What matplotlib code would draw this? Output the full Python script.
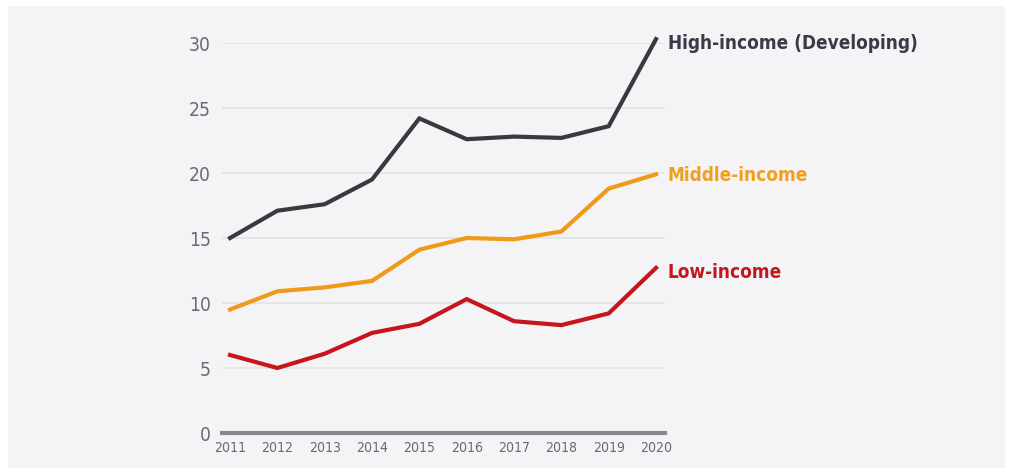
import matplotlib
matplotlib.use("Agg")
import matplotlib.pyplot as plt
from matplotlib.patches import Rectangle
from matplotlib import font_manager as fm

years = [2011, 2012, 2013, 2014, 2015, 2016, 2017, 2018, 2019, 2020]
high_income = [15.0, 17.1, 17.6, 19.5, 24.2, 22.6, 22.8, 22.7, 23.6, 30.3]
middle_income = [9.5, 10.9, 11.2, 11.7, 14.1, 15.0, 14.9, 15.5, 18.8, 19.9]
low_income = [6.0, 5.0, 6.1, 7.7, 8.4, 10.3, 8.6, 8.3, 9.2, 12.7]
series_names = ["High-income (Developing)", "Middle-income", "Low-income"]
series_colors = ["#3a3a3e", "#f09a1a", "#c4161c"]
label_colors = ["#3a3a48", "#f0a020", "#c4161c"]
yticks = [0, 5, 10, 15, 20, 25, 30]

# choose the most condensed installed font
rank = {"ultra-condensed": 0, "extra-condensed": 1, "condensed": 2, "semi-condensed": 3}
best = None
for f in fm.fontManager.ttflist:
    r = rank.get(f.stretch, 9)
    if r == 9 and ("Narrow" in f.name or "Condensed" in f.name):
        r = 2
    if r < 9 and (best is None or r < best[0]):
        best = (r, f)
if best is not None:
    fam = [best[1].name, "DejaVu Sans"]
    stretch = best[1].stretch
else:
    fam = ["Roboto", "DejaVu Sans"]
    stretch = "normal"

W, H = 1012, 477
fig = plt.figure(figsize=(W / 100, H / 100), dpi=100, facecolor="white")
fig.patches.append(Rectangle((8 / W, 8 / H), (1005 - 8) / W, (470 - 8) / H,
                             transform=fig.transFigure, facecolor="#f4f4f7",
                             edgecolor="none", zorder=-10))

ax = fig.add_axes([222 / W, 1 - 434 / H, 443 / W, (434 - 44) / H])
ax.set_facecolor("none")
ax.set_zorder(5)
ax.set_xlim(2010.83, 2020.19)
ax.set_ylim(0, 30)

for y in yticks[1:]:
    ax.axhline(y, color="#e2e2e6", lw=1.2, zorder=1)
ax.axhline(0, color="#8a8a8e", lw=3, zorder=2, clip_on=False)

for vals, c in zip([high_income, middle_income, low_income], series_colors):
    ax.plot(years, vals, color=c, lw=3.0, solid_joinstyle="miter", zorder=3, clip_on=False)

renderer = fig.canvas.get_renderer()


def fit_size(txt, target_px, weight="normal", base=20.0):
    t = fig.text(0, 0, txt, fontsize=base, family=fam, fontstretch=stretch, fontweight=weight)
    w = t.get_window_extent(renderer).width
    t.remove()
    return base * target_px / w


sz_lab = min(fit_size("High-income (Developing)", 250, "bold"), 18)
sz_y = min(fit_size("30", 22), 16)
sz_x = min(fit_size("2012", 32), 14)

ends = [high_income[-1], middle_income[-1], low_income[-1]]
offs = [0.3, 0.0, 0.3]
for name, v, c, o in zip(series_names, ends, label_colors, offs):
    ax.text(2020.25, v - o, name, color=c, fontsize=sz_lab, fontweight="bold",
            family=fam, fontstretch=stretch, va="center", ha="left", clip_on=False)

for s in ax.spines.values():
    s.set_visible(False)
ax.set_yticks(yticks)
ax.set_yticklabels([str(t) for t in yticks], family=fam, fontstretch=stretch,
                   fontsize=sz_y, color="#6a6a72")
ax.set_xticks(years)
ax.set_xticklabels([str(y) for y in years], family=fam, fontstretch=stretch,
                   fontsize=sz_x, color="#6a6a72")
ax.tick_params(axis="both", length=0)
ax.tick_params(axis="y", pad=8)
ax.tick_params(axis="x", pad=5)

fig.savefig("out.png", dpi=100, facecolor="white")
